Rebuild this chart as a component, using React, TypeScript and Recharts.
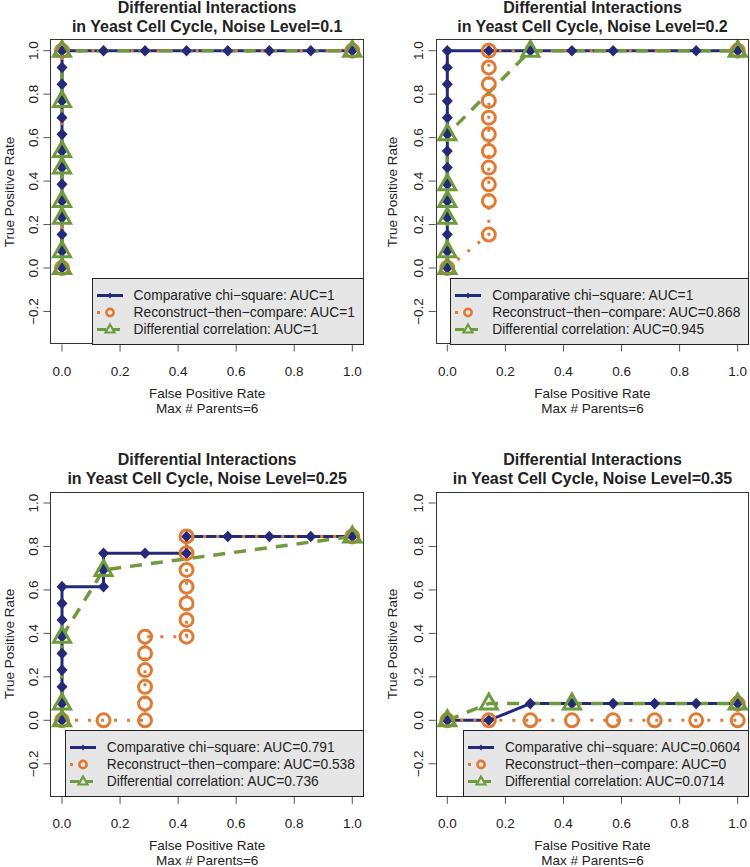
import React from "react";
import { LineChart, Line, XAxis, YAxis } from "recharts";

const X_TICKS = [0, 0.2, 0.4, 0.6, 0.8, 1.0];
const Y_TICKS = [-0.2, 0, 0.2, 0.4, 0.6, 0.8, 1.0];
const SERIES_NAMES = [
  "Comparative chi\u2212square",
  "Reconstruct\u2212then\u2212compare",
  "Differential correlation",
];
const NOISE_LEVELS = ["0.1", "0.2", "0.25", "0.35"];

// [FPR, TPR] points, noise 0.1
const chi01 = [[0, 0], [0, 0.077], [0, 0.154], [0, 0.231], [0, 0.308], [0, 0.385], [0, 0.462], [0, 0.538], [0, 0.615], [0, 0.692], [0, 0.769], [0, 0.846], [0, 0.923], [0, 1], [0.143, 1], [0.286, 1], [0.429, 1], [0.571, 1], [0.714, 1], [0.857, 1], [1, 1]];
const rec01 = [[0, 0], [0, 1], [1, 1]];
const dc01 = [[0, 0], [0, 0.077], [0, 0.231], [0, 0.308], [0, 0.462], [0, 0.538], [0, 0.769], [0, 1], [1, 1]];
const auc01 = ["1", "1", "1"];

// noise 0.2
const chi02 = [[0, 0], [0, 0.077], [0, 0.154], [0, 0.231], [0, 0.308], [0, 0.385], [0, 0.462], [0, 0.538], [0, 0.615], [0, 0.692], [0, 0.769], [0, 0.846], [0, 0.923], [0, 1], [0.143, 1], [0.286, 1], [0.429, 1], [0.571, 1], [0.857, 1], [1, 1]];
const rec02 = [[0, 0], [0.143, 0.154], [0.143, 0.308], [0.143, 0.385], [0.143, 0.462], [0.143, 0.538], [0.143, 0.615], [0.143, 0.692], [0.143, 0.769], [0.143, 0.846], [0.143, 0.923], [0.143, 1], [1, 1]];
const dc02 = [[0, 0], [0, 0.077], [0, 0.231], [0, 0.308], [0, 0.385], [0, 0.615], [0.286, 1], [1, 1]];
const auc02 = ["1", "0.868", "0.945"];

// noise 0.25
const chi025 = [[0, 0], [0, 0.077], [0, 0.154], [0, 0.231], [0, 0.308], [0, 0.385], [0, 0.462], [0, 0.538], [0, 0.615], [0.143, 0.615], [0.143, 0.692], [0.143, 0.769], [0.286, 0.769], [0.429, 0.769], [0.429, 0.846], [0.571, 0.846], [0.714, 0.846], [0.857, 0.846], [1, 0.846]];
const rec025 = [[0, 0], [0.143, 0], [0.286, 0], [0.286, 0.077], [0.286, 0.154], [0.286, 0.231], [0.286, 0.308], [0.286, 0.385], [0.429, 0.385], [0.429, 0.462], [0.429, 0.538], [0.429, 0.615], [0.429, 0.692], [0.429, 0.769], [0.429, 0.846], [1, 0.846]];
const dc025 = [[0, 0], [0, 0.077], [0, 0.385], [0.143, 0.692], [1, 0.846]];
const auc025 = ["0.791", "0.538", "0.736"];

// noise 0.35
const chi035 = [[0, 0], [0.143, 0], [0.286, 0.077], [0.429, 0.077], [0.571, 0.077], [0.714, 0.077], [0.857, 0.077], [1, 0.077]];
const rec035 = [[0, 0], [0.143, 0], [0.286, 0], [0.429, 0], [0.571, 0], [0.714, 0], [0.857, 0], [1, 0], [1, 0.077]];
const dc035 = [[0, 0], [0.143, 0.077], [0.429, 0.077], [1, 0.077]];
const auc035 = ["0.0604", "0", "0.0714"];

const NAVY = "#252a78";
const ORANGE = "#e07b35";
const GREEN = "#6f9a3e";
const FONT = '"Liberation Sans", Arial, Helvetica, sans-serif';

const toRows = (pts: number[][]) => pts.map(([x, y]) => ({ x, y }));

const Diamond = (p: any) => {
  const { cx, cy, index } = p;
  if (cx == null || cy == null) return <g key={index} />;
  return (
    <path
      key={index}
      d={`M${cx},${cy - 5.8} L${cx + 5.5},${cy} L${cx},${cy + 5.8} L${cx - 5.5},${cy} Z`}
      fill={NAVY}
    />
  );
};

const Ring = (p: any) => {
  const { cx, cy, index } = p;
  if (cx == null || cy == null) return <g key={index} />;
  return <circle key={index} cx={cx} cy={cy} r={6.5} fill="none" stroke={ORANGE} strokeWidth={3} />;
};

const Tri = (p: any) => {
  const { cx, cy, index } = p;
  if (cx == null || cy == null) return <g key={index} />;
  return (
    <path
      key={index}
      d={`M${cx},${cy - 9.5} L${cx + 8.5},${cy + 5.5} L${cx - 8.5},${cy + 5.5} Z`}
      fill="none"
      stroke={GREEN}
      strokeWidth={3}
    />
  );
};

const XTick = ({ x, y, payload }: any) => (
  <text x={x} y={y} textAnchor="middle" dominantBaseline="central" fontSize={13.5} fontFamily={FONT} fill="#222">
    {payload.value.toFixed(1)}
  </text>
);

const YTick = ({ x, y, payload }: any) => {
  const v = payload.value;
  const label = v < 0 ? "\u2212" + Math.abs(v).toFixed(1) : v.toFixed(1);
  return (
    <text
      x={x}
      y={y}
      transform={`rotate(-90 ${x} ${y})`}
      textAnchor="middle"
      dominantBaseline="central"
      fontSize={13.5}
      fontFamily={FONT}
      fill="#222"
    >
      {label}
    </text>
  );
};

function Swatch({ kind }: { kind: number }) {
  return (
    <svg width={28} height={17} style={{ position: "absolute", left: -38, top: 0 }}>
      {kind === 0 && (
        <g>
          <line x1={1} y1={8.5} x2={27} y2={8.5} stroke={NAVY} strokeWidth={3} />
          <path d="M14,5.5 L16.5,8.5 L14,11.5 L11.5,8.5 Z" fill={NAVY} />
        </g>
      )}
      {kind === 1 && (
        <g>
          <line x1={1} y1={8.5} x2={27} y2={8.5} stroke={ORANGE} strokeWidth={3} strokeDasharray="3 10" />
          <circle cx={14} cy={8.5} r={3.6} fill="#e6e6e6" stroke={ORANGE} strokeWidth={2.6} />
        </g>
      )}
      {kind === 2 && (
        <g>
          <line x1={1} y1={8.5} x2={27} y2={8.5} stroke={GREEN} strokeWidth={3} strokeDasharray="9 5" />
          <path d="M14,3.5 L18.5,11.5 L9.5,11.5 Z" fill="#e6e6e6" stroke={GREEN} strokeWidth={2.2} />
        </g>
      )}
    </svg>
  );
}

function Panel({
  left,
  top,
  height,
  box,
  noise,
  chi,
  rec,
  dc,
  auc,
}: {
  left: number;
  top: number;
  height: number;
  box: { L: number; R: number; T: number; B: number };
  noise: string;
  chi: number[][];
  rec: number[][];
  dc: number[][];
  auc: string[];
}) {
  const W = 375;
  const yAxisW = 30;
  const xAxisH = 30;
  const { L, R, T, B } = box;
  const cy = (T + B) / 2;
  return (
    <div style={{ position: "absolute", left, top, width: W, height, fontFamily: FONT, color: "#222" }}>
      <LineChart
        width={W}
        height={height}
        margin={{ top: T, right: W - R, bottom: height - B - xAxisH, left: L - yAxisW }}
      >
        <XAxis
          type="number"
          dataKey="x"
          domain={[-0.04, 1.04]}
          ticks={X_TICKS}
          height={xAxisH}
          axisLine={false}
          tickLine={{ stroke: "#555", strokeWidth: 1 }}
          tickSize={7}
          tickMargin={20}
          tick={<XTick />}
          interval={0}
        />
        <YAxis
          type="number"
          dataKey="y"
          domain={[-0.352, 1.052]}
          ticks={Y_TICKS}
          width={yAxisW}
          axisLine={false}
          tickLine={{ stroke: "#555", strokeWidth: 1 }}
          tickSize={7}
          tickMargin={10}
          tick={<YTick />}
          interval={0}
        />
        <Line
          data={toRows(chi)}
          dataKey="y"
          stroke={NAVY}
          strokeWidth={3}
          dot={Diamond}
          activeDot={false}
          isAnimationActive={false}
        />
        <Line
          data={toRows(rec)}
          dataKey="y"
          stroke={ORANGE}
          strokeWidth={3}
          strokeDasharray="3 10"
          dot={Ring}
          activeDot={false}
          isAnimationActive={false}
        />
        <Line
          data={toRows(dc)}
          dataKey="y"
          stroke={GREEN}
          strokeWidth={3.5}
          strokeDasharray="12 9"
          dot={Tri}
          activeDot={false}
          isAnimationActive={false}
        />
      </LineChart>
      {/* plot frame */}
      <div
        style={{
          position: "absolute",
          left: L,
          top: T,
          width: R - L,
          height: B - T,
          border: "1.3px solid #333",
          boxSizing: "border-box",
          pointerEvents: "none",
        }}
      />
      {/* legend, bottom right */}
      <div
        style={{
          position: "absolute",
          right: W - R,
          bottom: height - B,
          background: "#e6e6e6",
          border: "1.3px solid #222",
          padding: "8px 8px 6px 41px",
          fontSize: 13.75,
          whiteSpace: "nowrap",
        }}
      >
        {SERIES_NAMES.map((name, i) => (
          <div key={name} style={{ position: "relative", height: 17, lineHeight: "17px" }}>
            <Swatch kind={i} />
            {name}: AUC={auc[i]}
          </div>
        ))}
      </div>
      {/* title */}
      <div
        style={{
          position: "absolute",
          left: L - 40,
          width: R - L + 80,
          top: T - 41.5,
          textAlign: "center",
          fontWeight: "bold",
          fontSize: 16,
          lineHeight: "19px",
        }}
      >
        Differential Interactions
        <br />
        in Yeast Cell Cycle, Noise Level={noise}
      </div>
      {/* x label, two lines */}
      <div
        style={{
          position: "absolute",
          left: L - 40,
          width: R - L + 80,
          top: B + 41,
          textAlign: "center",
          fontSize: 13.5,
          lineHeight: "16px",
        }}
      >
        False Positive Rate
      </div>
      <div
        style={{
          position: "absolute",
          left: L - 40,
          width: R - L + 80,
          top: B + 58,
          textAlign: "center",
          fontSize: 13.5,
          lineHeight: "12px",
        }}
      >
        Max # Parents=6
      </div>
      {/* y label */}
      <div
        style={{
          position: "absolute",
          left: Math.max(L - 44, 8.5),
          top: cy,
          transform: "translate(-50%, -50%) rotate(-90deg)",
          fontSize: 13.5,
          whiteSpace: "nowrap",
          lineHeight: "13px",
        }}
      >
        True Positive Rate
      </div>
    </div>
  );
}

export default function App() {
  const topBox = { T: 39.4, B: 344.5 };
  const botBox = { T: 58.7, B: 363.8 };
  const leftX = { L: 50.4, R: 363.9 };
  const rightX = { L: 60.7, R: 374.3 };
  return (
    <div style={{ position: "absolute", left: 0, top: 0, width: 750, height: 867, background: "#fff", overflow: "hidden" }}>
      <Panel left={0} top={0} height={433} box={{ ...leftX, ...topBox }} noise={NOISE_LEVELS[0]} chi={chi01} rec={rec01} dc={dc01} auc={auc01} />
      <Panel left={375} top={0} height={433} box={{ ...rightX, ...topBox }} noise={NOISE_LEVELS[1]} chi={chi02} rec={rec02} dc={dc02} auc={auc02} />
      <Panel left={0} top={433} height={434} box={{ ...leftX, ...botBox }} noise={NOISE_LEVELS[2]} chi={chi025} rec={rec025} dc={dc025} auc={auc025} />
      <Panel left={375} top={433} height={434} box={{ ...rightX, ...botBox }} noise={NOISE_LEVELS[3]} chi={chi035} rec={rec035} dc={dc035} auc={auc035} />
    </div>
  );
}
